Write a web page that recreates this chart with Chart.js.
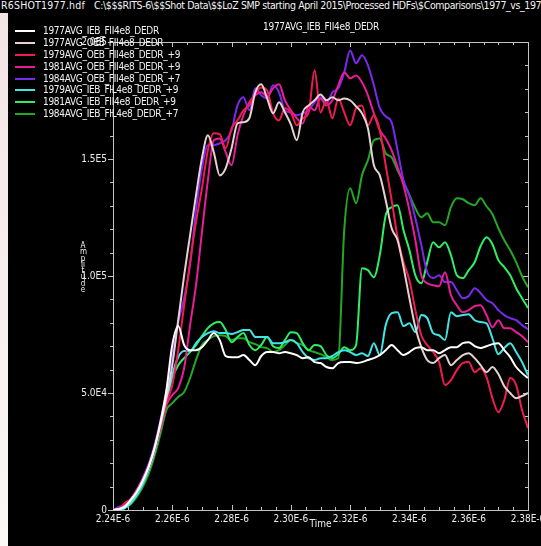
<!DOCTYPE html>
<html lang="en">
<head>
<meta charset="UTF-8">
<title>1977AVG_IEB_FII4e8_DEDR</title>
<style>
  body { margin:0; width:541px; height:546px; background:#000; overflow:hidden; position:relative;
         font-family:"Liberation Sans Narrow","Arial Narrow","DejaVu Sans Condensed",sans-serif; color:#f2f2f2; }
  #path { position:absolute; left:1px; top:-1px; font-size:10.5px; line-height:13px; white-space:nowrap; letter-spacing:-0.4px; }
  #path b { font-weight:normal; letter-spacing:0.2px; margin-right:9px; }
  #strip { position:absolute; left:0; top:13px; width:8px; height:533px; background:linear-gradient(#f3e4e4,#fbf8f8); }
  #box { position:absolute; left:8px; top:13px; width:533px; height:533px; }
  #title { position:absolute; left:221px; width:200px; top:21px; text-align:center; font-size:10px; line-height:12px; letter-spacing:-0.3px; }
  #legend { position:absolute; left:15px; top:25px; font-size:10px; letter-spacing:-0.3px; }
  .row { height:11.9px; line-height:11.9px; white-space:nowrap; }
  .sw { display:inline-block; width:20px; height:2px; vertical-align:middle; margin-right:8px; }
  #ylab { position:absolute; left:80px; top:243px; width:6px; font-size:8px; line-height:6.3px; word-break:break-all; text-align:center; }
</style>
</head>
<body>
  <div id="path"><b>R6SHOT1977.hdf</b>C:\$$$RITS-6\$$Shot Data\$$LoZ SMP starting April 2015\Processed HDFs\$Comparisons\1977_vs_1979_vs_1981_vs_1984</div>
  <div id="strip"></div>
  <div id="box"><canvas id="myChart" width="533" height="533"></canvas></div>
  <div id="title">1977AVG_IEB_FII4e8_DEDR</div>
  <div id="legend"></div>
  <div id="ylab">Amplitude</div>

<script src="https://cdn.jsdelivr.net/npm/chart.js"></script>
<script>
// time axis, in units of 1E-6 s
const times = [
  2.240,2.242,2.244,2.246,2.248,2.250,2.252,2.254,2.256,2.258,
  2.260,2.262,2.264,2.266,2.268,2.270,2.272,2.274,2.276,2.278,
  2.280,2.282,2.284,2.286,2.288,2.290,2.292,2.294,2.296,2.298,
  2.300,2.302,2.304,2.306,2.308,2.310,2.312,2.314,2.316,2.318,
  2.320,2.322,2.324,2.326,2.328,2.330,2.332,2.334,2.336,2.338,
  2.340,2.342,2.344,2.346,2.348,2.350,2.352,2.354,2.356,2.358,
  2.360,2.362,2.364,2.366,2.368,2.370,2.372,2.374,2.376,2.378,
  2.380];

const ieb1977 = [
  0,400,1300,4300,7700,12400,18400,26500,37600,51200,
  70500,78600,70500,68300,68300,69600,72600,75600,72600,65800,
  65300,65300,66200,64100,61900,65800,67500,67500,67000,67500,
  67000,66200,64900,65300,63200,62800,61100,60600,62800,63200,
  63200,62800,63200,64100,64900,66200,68300,70500,68300,66200,
  67500,69200,69600,68300,68300,67000,68300,69600,69600,71300,
  71700,70000,69200,70000,70900,71300,68300,65300,61100,58500,
  56400];
const oeb1977 = [
  0,400,1700,4300,7700,12400,18400,26500,36300,47800,
  61900,81100,100300,117400,134500,150300,160100,152900,143000,146000,
  154600,165200,165700,167400,178500,181900,175900,169500,174200,169900,
  164800,158000,169900,172900,175100,177600,175100,176400,175100,175900,
  175100,172500,169500,163100,147300,143000,132400,120400,115300,103800,
  90500,78100,69600,64100,62800,64900,66200,61900,64100,66200,
  67000,64900,61900,58900,61100,58100,52900,50000,47800,48700,
  50000];
const oeb1979 = [
  0,400,3000,4700,7700,12400,17900,25600,35000,45700,
  53400,68300,87500,105900,123000,137500,153700,161000,160600,154600,
  163100,166500,170800,172900,178100,180600,179300,169500,166500,171700,
  169900,164400,167400,169900,187900,169900,175100,167400,175900,169900,
  164400,171700,172900,164400,168700,162300,147300,132400,116600,105900,
  98200,85400,74700,70500,67500,63200,53400,55500,59800,62800,
  63200,58900,60600,56800,47800,41800,47000,56400,53400,42700,
  35000];
const oeb1981 = [
  0,400,1700,4700,8500,13200,18800,26500,35000,44800,
  49100,52100,60600,79000,96100,118700,140900,158000,158800,152900,
  147300,160100,168700,174200,177200,178500,176800,180200,181900,175100,
  170800,167400,165200,172500,170800,175900,172900,175100,181500,187000,
  184500,185700,182800,177200,169500,162300,158800,153700,146500,138800,
  128100,115300,100300,96900,96100,95600,101600,91800,87500,84500,
  85400,87100,87500,83300,78100,81100,77700,77700,76000,74300,
  71700];
const oeb1984 = [
  0,1300,2100,4700,8500,13700,19600,27800,38400,50400,
  66200,80300,90500,104600,128100,146000,155900,155900,156700,158000,
  162300,172900,176400,170800,180200,177200,175900,181500,178500,170800,
  169900,168700,169500,170800,174200,176400,173800,178500,180200,187000,
  196400,190900,194300,190000,181500,171700,168200,165700,153700,140900,
  134500,124700,113200,101600,99100,100300,97400,97400,93900,90500,
  91400,94800,92700,89700,88400,85400,83300,82000,81100,79000,
  77300];
const ieb1979 = [
  0,0,900,3000,6400,11100,17100,24800,35000,45700,
  57600,65300,67900,67900,71300,73900,75600,76400,75600,75600,
  75200,76000,76900,76900,73900,73900,73900,71300,71300,71700,
  72600,71300,67500,64900,64100,64900,64900,65800,67500,68300,
  67500,66200,67000,65800,71300,66200,79000,84100,84500,78600,
  79800,76000,83300,82000,75600,74700,72600,84500,82800,83300,
  83700,81100,80300,79800,73400,66600,69200,71300,67500,63200,
  57600];
const ieb1981 = [
  0,0,900,3000,6400,11100,17100,24800,35000,47000,
  56400,61900,64900,67500,70500,74300,77700,79800,80300,76900,
  71700,73900,75600,70500,68300,70500,73900,70000,69200,72600,
  76000,75600,71300,68300,70500,70000,66200,64900,66600,69600,
  68300,70500,103300,102500,99500,108900,126000,129400,130200,119600,
  111000,100300,96900,105900,114400,112300,114400,108900,100300,99100,
  102500,105900,112700,116600,113600,106800,103800,100300,94800,90500,
  86300];
const ieb1984 = [
  0,0,900,2600,5600,9800,15400,23100,32500,42700,
  45700,48300,50400,56400,64100,70500,72600,74300,74700,74300,
  72600,73400,73400,71700,70900,69600,69200,67500,68300,70500,
  72600,71300,70500,68300,67500,66600,65300,64100,64900,119600,
  137500,131100,143000,149500,158000,158800,152400,150700,145200,140100,
  134500,129000,125100,126800,123000,123000,121700,129400,133200,132800,
  131100,130200,133200,129800,126400,120400,115300,111000,105900,99900,
  95200];

const seriesNames = [
  '1977AVG_IEB_FII4e8_DEDR',
  '1977AVG_OEB_FII4e8_DEDR',
  '1979AVG_OEB_FII4e8_DEDR_+9',
  '1981AVG_OEB_FII4e8_DEDR_+9',
  '1984AVG_OEB_FII4e8_DEDR_+7',
  '1979AVG_IEB_FIL4e8_DEDR_+9',
  '1981AVG_IEB_FII4e8_DEDR_+9',
  '1984AVG_IEB_FIL4e8_DEDR_+7'];
const seriesValues = [ieb1977, oeb1977, oeb1979, oeb1981, oeb1984, ieb1979, ieb1981, ieb1984];
const seriesColors = ['#ffffff', '#e6d2d2', '#f01c50', '#ea1c98', '#7a2af0', '#40e6e6', '#2cf064', '#24a824'];

const xMin = 2.24, xMax = 2.38, yMax = 200000;

Chart.defaults.font.family = '"Liberation Sans Narrow","Arial Narrow","DejaVu Sans Condensed",sans-serif';
Chart.defaults.font.size = 10;
Chart.defaults.color = '#ececec';

// frame with inward/outward tick marks like the original plot
const frame = {
  id: 'frame',
  beforeDatasetsDraw(chart) {
    const {ctx, chartArea: a, scales: {x, y}} = chart;
    ctx.save();
    ctx.strokeStyle = '#c4c4c4';
    ctx.lineWidth = 1;
    ctx.strokeRect(a.left + 0.5, a.top + 0.5, a.right - a.left, a.bottom - a.top);
    ctx.beginPath();
    x.ticks.forEach((t, i) => {
      const p = Math.round(x.getPixelForTick(i)) + 0.5;
      const len = t.label ? 5 : 3;
      ctx.moveTo(p, a.bottom); ctx.lineTo(p, a.bottom - len);
      ctx.moveTo(p, a.top); ctx.lineTo(p, a.top + len);
    });
    y.ticks.forEach((t, i) => {
      const p = Math.round(y.getPixelForTick(i)) + 0.5;
      const len = t.label ? 5 : 3;
      ctx.moveTo(a.left, p); ctx.lineTo(a.left - len, p);
      ctx.moveTo(a.right, p); ctx.lineTo(a.right - len, p);
    });
    ctx.stroke();
    ctx.restore();
  }
};

const ctx = document.getElementById('myChart');
const myChart = new Chart(ctx, {
  type: 'line',
  data: {
    datasets: seriesNames.map((name, s) => ({
      label: name,
      data: times.map((t, i) => ({x: t, y: seriesValues[s][i]})),
      borderColor: seriesColors[s],
      borderWidth: 2,
      pointRadius: 0,
      cubicInterpolationMode: 'monotone',
      fill: false
    }))
  },
  options: {
    responsive: false,
    animation: false,
    layout: { padding: { top: 29, right: 13, left: 0, bottom: 0 } },
    plugins: { legend: { display: false }, tooltip: { enabled: false } },
    scales: {
      x: {
        type: 'linear', min: xMin, max: xMax,
        grid: { display: false, drawTicks: false },
        border: { display: false },
        ticks: {
          stepSize: 0.005, autoSkip: false, maxRotation: 0, padding: 3,
          callback: v => { const k = Math.round(v * 1000); return k % 20 === 0 ? (k / 1000).toFixed(2) + 'E-6' : ''; }
        },
        title: { display: true, text: 'Time', padding: { top: 0, bottom: 16 } },
        afterFit: s => { s.height = 36; s.paddingLeft = 0; s.paddingRight = 0; }
      },
      y: {
        min: 0, max: yMax,
        grid: { display: false, drawTicks: false },
        border: { display: false },
        ticks: {
          stepSize: 10000, autoSkip: false, padding: 6,
          callback: v => {
            if (v === 0) return '0';
            if (v % 50000 !== 0) return '';
            const e = Math.floor(Math.log10(v));
            return (v / Math.pow(10, e)).toFixed(1) + 'E' + e;
          }
        },
        afterFit: s => { s.width = 105; }
      }
    }
  },
  plugins: [frame]
});

// legend as html rows, taken from the chart's datasets
document.getElementById('legend').innerHTML = myChart.data.datasets.map(d =>
  `<div class="row"><span class="sw" style="background:${d.borderColor}"></span>${d.label}</div>`).join('');
</script>
</body>
</html>
